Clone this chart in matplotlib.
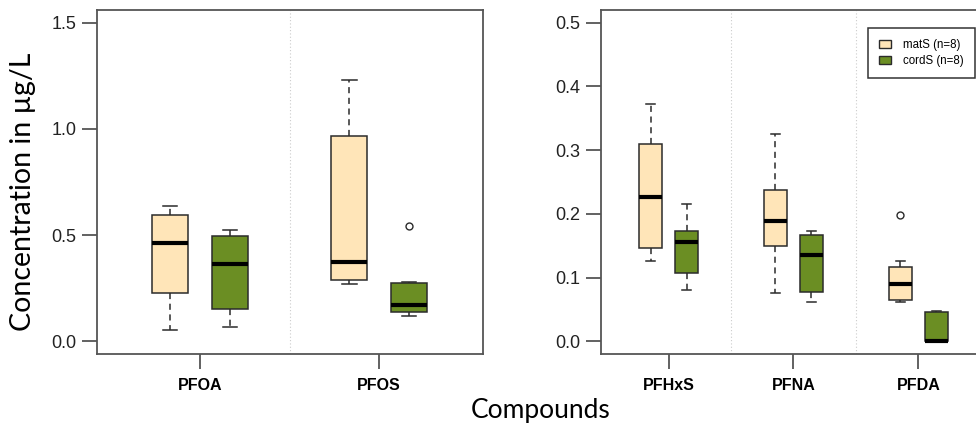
import matplotlib
matplotlib.use("Agg")
import matplotlib.pyplot as plt
from matplotlib.patches import Patch

# box statistics: (whislo, q1, median, q3, whishi)
left_compounds = ["PFOA", "PFOS"]
left_mats = [(0.051, 0.225, 0.463, 0.594, 0.638),
             (0.271, 0.287, 0.375, 0.967, 1.232)]
left_cords = [(0.068, 0.153, 0.362, 0.498, 0.526),
              (0.121, 0.137, 0.172, 0.276, 0.281)]
left_mats_out = [[], []]
left_cords_out = [[], [0.542]]

right_compounds = ["PFHxS", "PFNA", "PFDA"]
right_mats = [(0.126, 0.147, 0.227, 0.309, 0.372),
              (0.075, 0.149, 0.1885, 0.237, 0.325),
              (0.062, 0.065, 0.090, 0.1165, 0.126)]
right_cords = [(0.081, 0.1066, 0.1565, 0.173, 0.216),
               (0.062, 0.0767, 0.135, 0.1675, 0.173),
               (0.0, 0.0, 0.0, 0.046, 0.048)]
right_mats_out = [[], [], [0.1975]]
right_cords_out = [[], [], []]

mats_color = "#FFE5B8"
cords_color = "#6B8E23"
edge = "#2b2b2b"
frame = "#555555"


def to_stats(rows, outs):
    out = []
    for (lo, q1, med, q3, hi), fl in zip(rows, outs):
        out.append(dict(whislo=lo, q1=q1, med=med, q3=q3, whishi=hi, fliers=fl))
    return out


def draw_pairs(ax, mats, cords, mats_out, cords_out, offset, width):
    n = len(mats)
    for stats, outs, sign, col in [(mats, mats_out, -1, mats_color),
                                   (cords, cords_out, 1, cords_color)]:
        pos = [i + 1 + sign * offset for i in range(n)]
        ax.bxp(to_stats(stats, outs), positions=pos, widths=width,
               capwidths=width * 0.4, patch_artist=True, manage_ticks=False,
               boxprops=dict(facecolor=col, edgecolor=edge, linewidth=1.1),
               medianprops=dict(color="black", linewidth=3.0, solid_capstyle="butt"),
               whiskerprops=dict(color=edge, linewidth=1.1, linestyle=(0, (4, 3))),
               capprops=dict(color=edge, linewidth=1.1),
               flierprops=dict(marker="o", markersize=5, markerfacecolor="none",
                               markeredgecolor=edge, markeredgewidth=1.0))
    # dotted separators between compounds
    for k in range(1, n):
        ax.axvline(k + 0.5, color="#cccccc", linestyle=(0, (1, 2)), linewidth=0.8, zorder=0)


def style(ax, names, ylim, yticks):
    ax.set_ylim(ylim)
    ax.set_yticks(yticks)
    ax.set_yticklabels(["%.1f" % v for v in yticks], fontsize=13,
                       family=["Liberation Sans", "DejaVu Sans"], color="#222222")
    ax.set_xticks(range(1, len(names) + 1))
    ax.set_xticklabels(names, fontsize=11.5, fontweight="bold",
                       family=["Liberation Sans", "DejaVu Sans"])
    ax.tick_params(axis="both", length=11, width=1.3, color=frame, direction="out")
    ax.tick_params(axis="y", pad=4)
    ax.tick_params(axis="x", pad=6)
    for s in ax.spines.values():
        s.set_color(frame)
        s.set_linewidth(1.3)


fig = plt.figure(figsize=(9.76, 4.23), dpi=100)
ax1 = fig.add_axes([0.0994, 0.1631, 0.3955, 0.8133])
ax2 = fig.add_axes([0.6158, 0.1631, 0.3944, 0.8133])

draw_pairs(ax1, left_mats, left_cords, left_mats_out, left_cords_out, 0.166, 0.2)
ax1.set_xlim(0.425, 2.58)
style(ax1, left_compounds, (-0.06, 1.56), [0.0, 0.5, 1.0, 1.5])

draw_pairs(ax2, right_mats, right_cords, right_mats_out, right_cords_out, 0.144, 0.18)
ax2.set_xlim(0.46, 3.54)
style(ax2, right_compounds, (-0.02, 0.52), [0.0, 0.1, 0.2, 0.3, 0.4, 0.5])

handles = [Patch(facecolor=mats_color, edgecolor=edge, label="matS (n=8)"),
           Patch(facecolor=cords_color, edgecolor=edge, label="cordS (n=8)")]
leg = ax2.legend(handles=handles, loc="upper left", bbox_to_anchor=(0.694, 0.947),
                 fancybox=False, edgecolor="#333333", framealpha=1,
                 prop=dict(family=["Liberation Sans", "DejaVu Sans"], size=8.3),
                 handlelength=1.0, handleheight=0.7, handletextpad=1.1,
                 labelspacing=0.3, borderpad=0.95, borderaxespad=0)
leg.get_frame().set_linewidth(1.1)

fig.text(0.0236, 0.547, "Concentration in µg/L", rotation=90, ha="center", va="center",
         fontsize=20.5, family=["Lato", "DejaVu Sans"])
fig.text(0.554, 0.001, "Compounds", ha="center", va="bottom",
         fontsize=19, family=["Lato", "DejaVu Sans"])

fig.savefig("out.png", dpi=100)
